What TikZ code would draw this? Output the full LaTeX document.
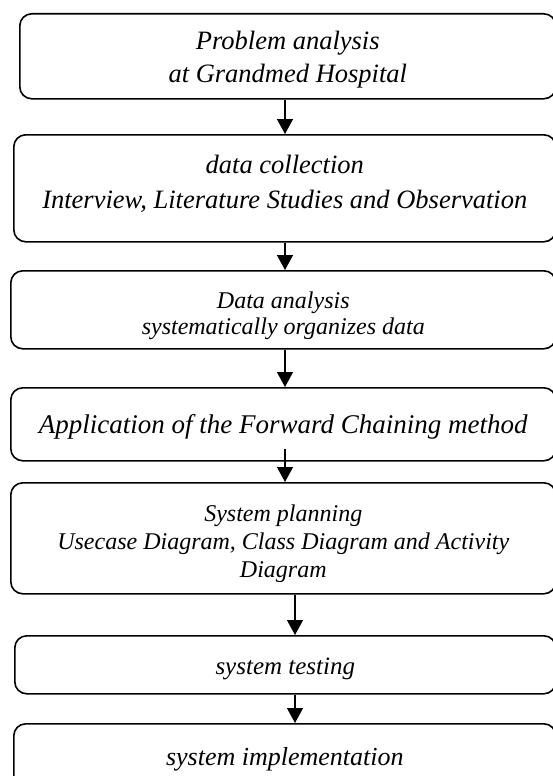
\documentclass[tikz,border=0pt]{standalone}
\usepackage{fontspec}
\setmainfont{Liberation Serif}
\usetikzlibrary{arrows.meta,calc}
\begin{document}
\begin{tikzpicture}[x=1pt,y=-1pt,
  box/.style={draw, line width=1.6pt, rounded corners=12pt, inner sep=0pt, anchor=north west},
  txt/.style={align=center, inner sep=0pt},
  arr/.style={line width=1.3pt, -{Triangle[width=16pt,length=15pt]}}]
\useasboundingbox (0,0) rectangle (553,776);
\clip (0,0) rectangle (553,776);
\node[box, minimum width=536pt, minimum height=85pt] (b1) at (19,13) {};
\node[box, minimum width=542pt, minimum height=107pt] (b2) at (13,134) {};
\node[box, minimum width=545pt, minimum height=78pt] (b3) at (10,270) {};
\node[box, minimum width=545pt, minimum height=73pt] (b4) at (10,387) {};
\node[box, minimum width=545pt, minimum height=111pt] (b5) at (10,482) {};
\node[box, minimum width=541pt, minimum height=58pt] (b6) at (14,635) {};
\node[box, minimum width=542pt, minimum height=64pt] (b7) at (13,723) {};
\node[txt, font=\fontsize{26.5}{33}\selectfont\itshape, yshift=-3.5pt] (t1) at (b1.center) {Problem analysis\\at Grandmed Hospital};
\node[txt, font=\fontsize{26.5}{35}\selectfont\itshape, yshift=4pt] (t2) at (b2.center) {data collection\\Interview, Literature Studies and Observation};
\node[txt, font=\fontsize{24}{26}\selectfont\itshape, yshift=-5.5pt] (t3) at (b3.center) {Data analysis\\systematically organizes data};
\node[txt, font=\fontsize{27}{32}\selectfont\itshape, yshift=-3pt] (t4) at (b4.center) {Application of the Forward Chaining method};
\node[txt, font=\fontsize{24}{28}\selectfont\itshape, yshift=-5pt] (t5) at (b5.center) {System planning\\Usecase Diagram, Class Diagram and Activity\\Diagram};
\node[txt, font=\fontsize{25}{30}\selectfont\itshape, yshift=-4pt] (t6) at (b6.center) {system testing};
\node[txt, font=\fontsize{26}{30}\selectfont\itshape, yshift=-3pt] (t7) at (b7.center) {system implementation};
\coordinate (ax) at (285,0);
\coordinate (bx) at (295,0);
\draw[arr] (b1.south -| ax) -- (b2.north -| ax);
\draw[arr] (b2.south -| ax) -- (b3.north -| ax);
\draw[arr] (b3.south -| ax) -- (b4.north -| ax);
\draw[arr] ($(b4.south -| ax)+(0,-13)$) -- (b5.north -| ax);
\draw[arr] (b5.south -| bx) -- (b6.north -| bx);
\draw[arr] (b6.south -| bx) -- (b7.north -| bx);
\end{tikzpicture}
\end{document}
